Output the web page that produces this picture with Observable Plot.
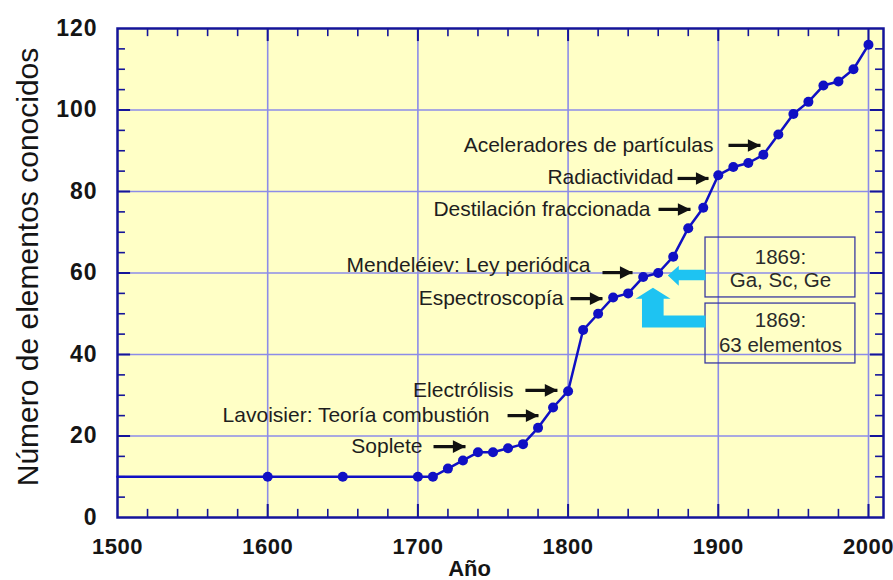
<!DOCTYPE html>
<html><head><meta charset="utf-8">
<script src="https://cdn.jsdelivr.net/npm/d3@7"></script>
<script src="https://cdn.jsdelivr.net/npm/@observablehq/plot@0.6"></script>
<style>
html,body{margin:0;padding:0;background:#fff;}
#chart svg{display:block;}
#chart g[aria-label="x-axis tick label"] text{letter-spacing:0.5px;}
#chart g[aria-label="y-axis tick label"] text{letter-spacing:1px;}
</style></head><body><div id="chart"></div>
<script>
// ---- data ----
const lineStartYear = 1500;
const lineStartCount = 10;
const years  = [1600,1650,1700,1710,1720,1730,1740,1750,1760,1770,1780,1790,1800,1810,1820,1830,1840,1850,1860,1870,1880,1890,1900,1910,1920,1930,1940,1950,1960,1970,1980,1990,2000];
const counts = [10,10,10,10,12,14,16,16,17,18,22,27,31,46,50,54,55,59,60,64,71,76,84,86,87,89,94,99,102,106,107,110,116];

const xTickValues = [1500,1600,1700,1800,1900,2000];
const yTickValues = [0,20,40,60,80,100,120];
const xGrid = [1600,1700,1800,1900,2000];
const yGrid = [20,40,60,80,100];

const annLabels = ["Aceleradores de partículas","Radiactividad","Destilación fraccionada","Mendeléiev: Ley periódica","Espectroscopía","Electrólisis","Lavoisier: Teoría combustión","Soplete"];
const annTextX  = [1896.8,1870.2,1854.9,1814.9,1796.9,1763.6,1747.7,1703.1];
const annTextY  = [91.3,83.4,75.6,61.8,53.7,31.2,25.0,17.4];
const arrowX1   = [1906.8,1872.9,1860.2,1822.9,1801.6,1771.6,1759.7,1710.4];
const arrowX2   = [1928.1,1893.5,1881.5,1842.9,1822.9,1792.9,1780.3,1731.7];
const arrowY    = [91.3,83.2,75.6,60.1,53.7,31.2,25.0,17.4];

const boxX1 = [1891.5,1891.5], boxX2 = [1991.3,1991.3];
const boxY1 = [54.0,37.8],     boxY2 = [68.7,52.5];
const boxLines = ["1869:","Ga, Sc, Ge","1869:","63 elementos"];
const boxLineX = [1941.4,1941.4,1941.4,1941.4];
const boxLineY = [63.8,58.2,48.3,42.2];

const cyanArrow1 = [[1891.5,60.8],[1873.7,60.8],[1873.7,61.8],[1866.4,59.4],[1873.7,56.9],[1873.7,58.2],[1891.5,58.2]];
const cyanArrow2 = [[1891.5,49.6],[1863.6,49.6],[1863.6,53.7],[1868.2,53.7],[1856.5,56.4],[1844.9,53.7],[1849.2,53.7],[1849.2,46.6],[1891.5,46.6]];

// ---- build ----
const pts = [{year: lineStartYear, count: lineStartCount}, ...years.map((y,i)=>({year:y, count:counts[i]}))];
const dotPts = years.map((y,i)=>({year:y, count:counts[i]}));
const ann = annLabels.map((t,i)=>({t, tx:annTextX[i], ty:annTextY[i], x1:arrowX1[i], x2:arrowX2[i], y:arrowY[i]}));
const boxes = boxX1.map((v,i)=>({x1:v, x2:boxX2[i], y1:boxY1[i], y2:boxY2[i]}));
const boxText = boxLines.map((t,i)=>({t, x:boxLineX[i], y:boxLineY[i]}));

const xMinor = d3.range(1520, 2001, 20).filter(v => v % 100 !== 0);
const yMinor = d3.range(5, 120, 5).filter(v => v % 20 !== 0);

const frameColor = "#14149a";
const gridColor = "#8c8ce8";
const lineColor = "#1010c4";
const font = "'Liberation Sans', Arial, sans-serif";

const headRight = {draw(ctx, size){ const r = Math.sqrt(size/Math.PI); ctx.moveTo(r,0); ctx.lineTo(-r,-r); ctx.lineTo(-r,r); ctx.closePath(); }};

const chart = Plot.plot({
  width: 893, height: 580,
  marginLeft: 117, marginRight: 10, marginTop: 28, marginBottom: 63,
  x: {domain: [1500, 2010]},
  y: {domain: [0, 120]},
  style: {fontFamily: font, background: "white"},
  marks: [
    Plot.frame({fill: "#ffffc6", stroke: null}),
    Plot.ruleX(xGrid, {stroke: gridColor, strokeWidth: 1.6}),
    Plot.ruleY(yGrid, {stroke: gridColor, strokeWidth: 1.6}),
    // ticks (inside)
    Plot.ruleX(xMinor, {y1: 0, y2: 2, stroke: frameColor, strokeWidth: 1.6}),
    Plot.ruleX(xMinor, {y1: 118, y2: 120, stroke: frameColor, strokeWidth: 1.6}),
    Plot.ruleX(xGrid, {y1: 0, y2: 3.2, stroke: frameColor, strokeWidth: 2}),
    Plot.ruleX(xGrid, {y1: 116.8, y2: 120, stroke: frameColor, strokeWidth: 2}),
    Plot.ruleY(yMinor, {x1: 1500, x2: 1505.3, stroke: frameColor, strokeWidth: 1.6}),
    Plot.ruleY(yMinor, {x1: 2004.7, x2: 2010, stroke: frameColor, strokeWidth: 1.6}),
    Plot.ruleY(yGrid, {x1: 1500, x2: 1508.7, stroke: frameColor, strokeWidth: 2}),
    Plot.ruleY(yGrid, {x1: 2001.3, x2: 2010, stroke: frameColor, strokeWidth: 2}),
    Plot.frame({stroke: frameColor, strokeWidth: 2.5}),
    // boxes
    Plot.rect(boxes, {x1: "x1", x2: "x2", y1: "y1", y2: "y2", stroke: "#3a3aa0", strokeWidth: 1.3, fill: "none"}),
    Plot.text(boxText, {x: "x", y: "y", text: "t", fontSize: 20.5, fill: "#2a2a2a"}),
    // cyan arrows
    Plot.line(cyanArrow1, {x: d => d[0], y: d => d[1], fill: "#1ec3f2", stroke: "none"}),
    Plot.line(cyanArrow2, {x: d => d[0], y: d => d[1], fill: "#1ec3f2", stroke: "none"}),
    // data
    Plot.line(pts, {x: "year", y: "count", stroke: lineColor, strokeWidth: 2.5}),
    Plot.dot(dotPts, {x: "year", y: "count", r: 5, fill: lineColor, stroke: "none"}),
    // annotations
    Plot.text(ann, {x: "tx", y: "ty", text: "t", textAnchor: "end", fontSize: 21, fill: "#1e1e1e"}),
    Plot.link(ann, {x1: "x1", x2: "x2", y1: "y", y2: "y", stroke: "#111", strokeWidth: 3.2}),
    Plot.dot(ann, {x: "x2", y: "y", symbol: headRight, r: 6.3, dx: -6.3, fill: "#111", stroke: "none"}),
    // axes
    Plot.axisX(xTickValues, {tickSize: 0, tickPadding: 21, fontSize: 22, fontWeight: "bold", fill: "#151515", label: null, tickFormat: d => String(d)}),
    Plot.axisY(yTickValues, {tickSize: 0, tickPadding: 20, fontSize: 23, fontWeight: "bold", fill: "#151515", label: null}),
    Plot.text(["Año"], {frameAnchor: "bottom", lineAnchor: "middle", dy: 51, dx: -31, fontSize: 22, fontWeight: "bold", fill: "#151515"}),
    Plot.text(["Número de elementos conocidos"], {frameAnchor: "left", textAnchor: "middle", lineAnchor: "middle", rotate: -90, dx: -89, dy: -6, fontSize: 30, fill: "#151515"})
  ]
});
document.getElementById("chart").appendChild(chart);
</script>
</body></html>
